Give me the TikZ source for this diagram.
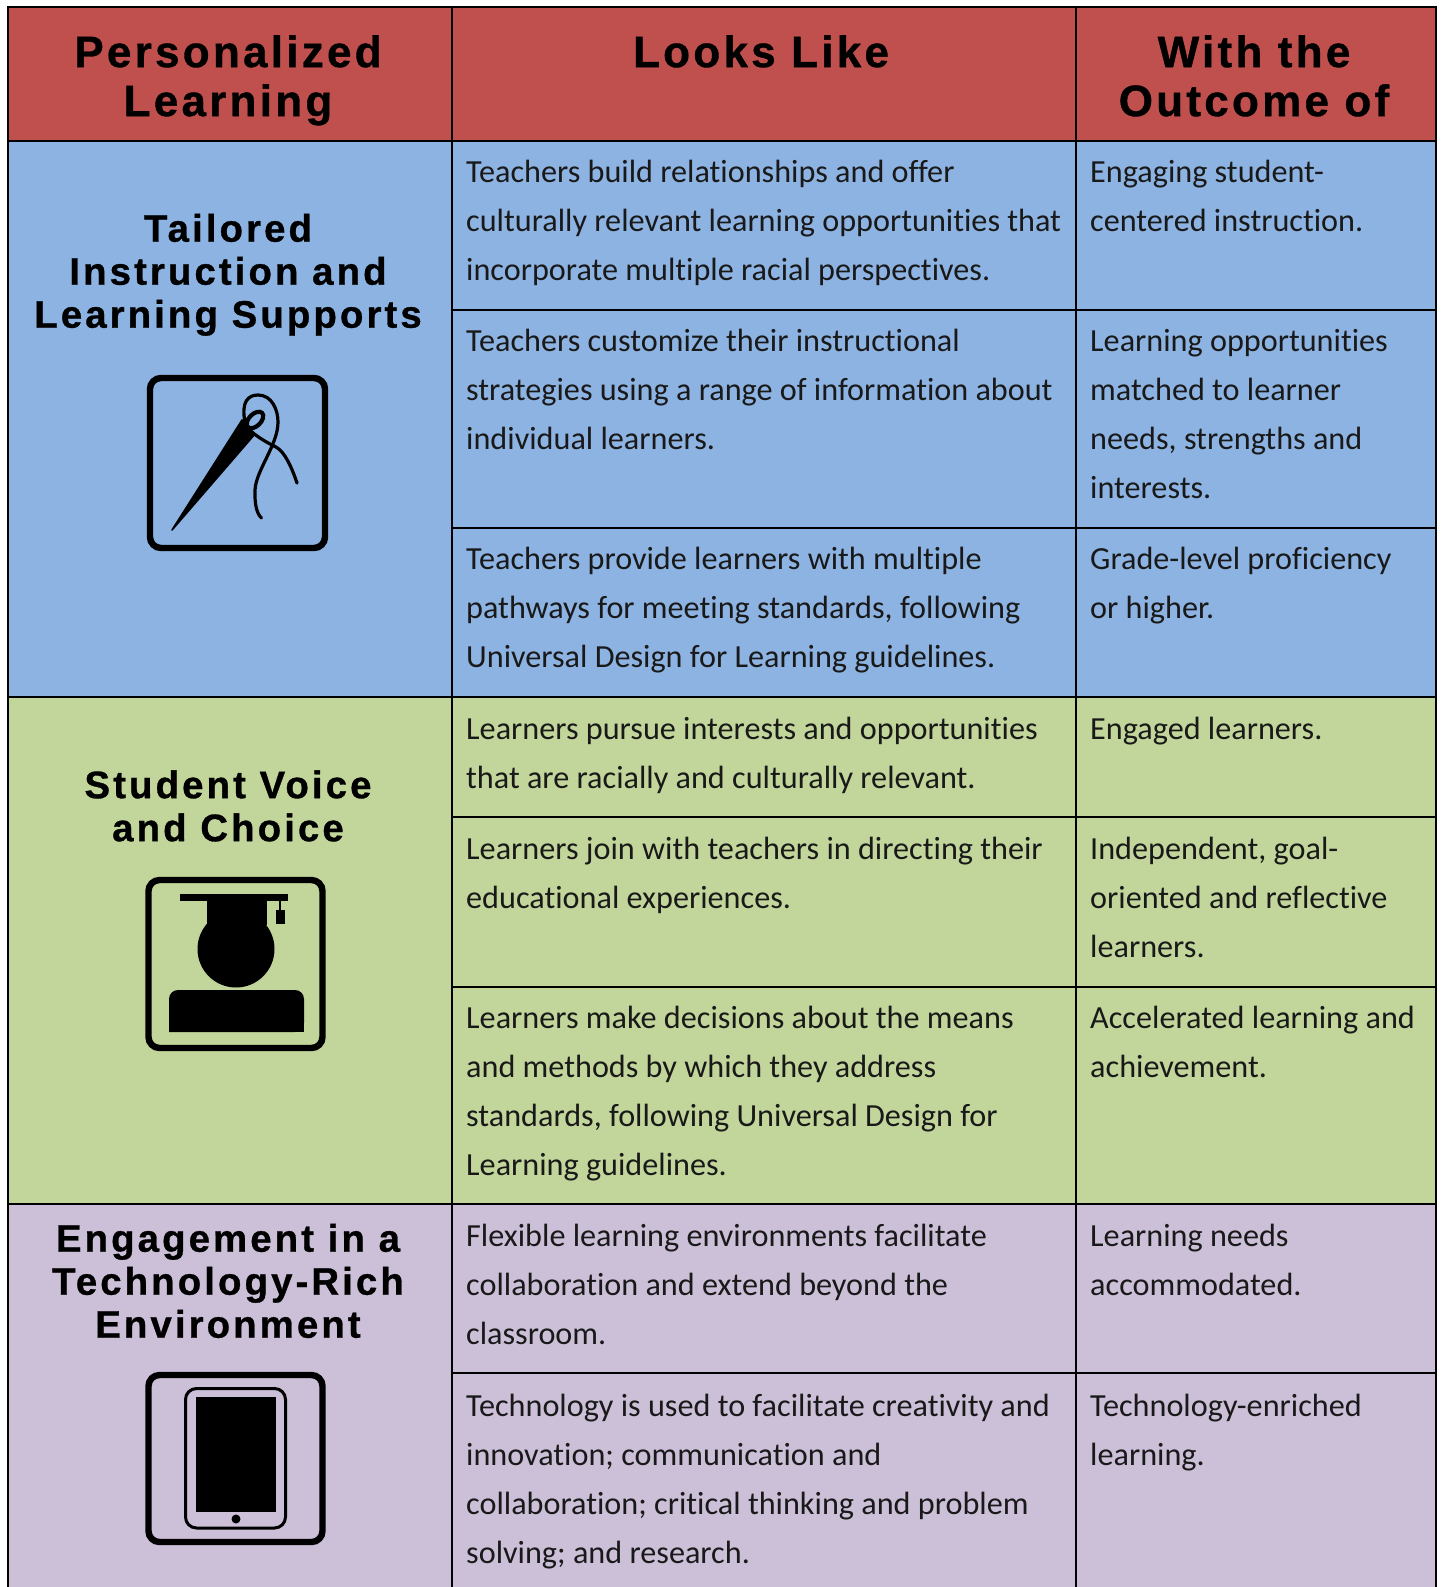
\documentclass[tikz,border=0pt]{standalone}
\usepackage{fontspec}
\setmainfont{Carlito}[Ligatures={NoCommon}]
\newfontfamily\headf{Liberation Sans}[LetterSpace=7.4,BoldFeatures={FakeBold=0.8}]
\newfontfamily\secf{Liberation Sans}[LetterSpace=8,BoldFeatures={FakeBold=0.8}]
\newcommand{\firstl}{\rule{0pt}{24pt}}
\definecolor{hdr}{HTML}{C0504D}
\definecolor{blu}{HTML}{8DB3E2}
\definecolor{grn}{HTML}{C2D69B}
\definecolor{pur}{HTML}{CCC0D9}
\tikzset{
  bodytext/.style={anchor=north west,inner sep=0pt,align=left,font=\fontsize{32.2}{48.7}\selectfont,text=black!90},
  headtext/.style={anchor=north,inner sep=0pt,align=center,font=\headf\bfseries\fontsize{44}{49}\selectfont},
  sectext/.style={anchor=north,inner sep=0pt,align=center,font=\secf\bfseries\fontsize{38.4}{43}\selectfont},
  rule/.style={draw=black,line width=2.6pt},
  iconbox/.style={draw=black,line width=6.4pt,rounded corners=11pt},
}
\begin{document}
\begin{tikzpicture}[x=1pt,y=-1pt]
\useasboundingbox (0,0) rectangle (1440,1587);
\fill[white] (0,0) rectangle (1440,1587);
% bands
\fill[hdr] (8,7) rectangle (1436,141);
\fill[blu] (8,141) rectangle (1436,697);
\fill[grn] (8,697) rectangle (1436,1204);
\fill[pur] (8,1204) rectangle (1436,1587);
% grid
\draw[rule] (8,1587) -- (8,7) -- (1436,7) -- (1436,1587);
\draw[rule] (452,7) -- (452,1587);
\draw[rule] (1076,7) -- (1076,1587);
\draw[rule] (8,141) -- (1436,141);
\draw[rule] (8,697) -- (1436,697);
\draw[rule] (8,1204) -- (1436,1204);
\foreach \yy in {310,528,817,987,1373} \draw[rule] (452,\yy) -- (1436,\yy);
% headers
\node[headtext] (h1) at (228,35) {\rule{0pt}{31pt}Personalized\\Learning};
\node[headtext] (h2) at (761,35) {\rule{0pt}{31pt}Looks Like};
\node[headtext] (h3) at (1254,35) {\rule{0pt}{31pt}With the\\Outcome of};
% section titles
\node[sectext] (s1) at (228,211.5) {\rule{0pt}{30pt}Tailored\\Instruction and\\Learning Supports};
\node[sectext] (s2) at (228,768) {\rule{0pt}{30pt}Student Voice\\and Choice};
\node[sectext] (s3) at (228,1221.5) {\rule{0pt}{30pt}Engagement in a\\Technology-Rich\\Environment};
% column 2
\node[bodytext] (a1) at (466,158.7) {\firstl Teachers build relationships and offer\\culturally relevant learning opportunities that\\incorporate multiple racial perspectives.};
\node[bodytext] (a2) at (466,327.7) {\firstl Teachers customize their instructional\\strategies using a range of information about\\individual learners.};
\node[bodytext] (a3) at (466,545.7) {\firstl Teachers provide learners with multiple\\pathways for meeting standards, following\\Universal Design for Learning guidelines.};
\node[bodytext] (a4) at (466,715.3) {\firstl Learners pursue interests and opportunities\\that are racially and culturally relevant.};
\node[bodytext] (a5) at (466,835.7) {\firstl Learners join with teachers in directing their\\educational experiences.};
\node[bodytext] (a6) at (466,1004.7) {\firstl Learners make decisions about the means\\and methods by which they address\\standards, following Universal Design for\\Learning guidelines.};
\node[bodytext] (a7) at (466,1222.7) {\firstl Flexible learning environments facilitate\\collaboration and extend beyond the\\classroom.};
\node[bodytext] (a8) at (466,1392.7) {\firstl Technology is used to facilitate creativity and\\innovation; communication and\\collaboration; critical thinking and problem\\solving; and research.};
% column 3
\node[bodytext] (b1) at (1090,158.7) {\firstl Engaging student-\\centered instruction.};
\node[bodytext] (b2) at (1090,327.7) {\firstl Learning opportunities\\matched to learner\\needs, strengths and\\interests.};
\node[bodytext] (b3) at (1090,545.7) {\firstl Grade-level proficiency\\or higher.};
\node[bodytext] (b4) at (1090,715.3) {\firstl Engaged learners.};
\node[bodytext] (b5) at (1090,835.7) {\firstl Independent, goal-\\oriented and reflective\\learners.};
\node[bodytext] (b6) at (1090,1004.7) {\firstl Accelerated learning and\\achievement.};
\node[bodytext] (b7) at (1090,1222.7) {\firstl Learning needs\\accommodated.};
\node[bodytext] (b8) at (1090,1392.7) {\firstl Technology-enriched\\learning.};
% needle icon
\draw[iconbox] (150,378) rectangle (325,548);
\fill[black,draw=black,line width=1.6pt,line join=round] (172,530) -- (242,420) -- (255,434) -- cycle;
\draw[black,line width=4.2pt,fill=blu,rotate around={45:(255,420)}] (255,420) ellipse (10pt and 6pt);
\draw[black,line width=3.2pt,line cap=round] (245,422) .. controls (241,402) and (248,395) .. (258,395) .. controls (272,395) and (278,410) .. (278,422) .. controls (278,445) and (256,470) .. (255,490) .. controls (254.5,505) and (257,514) .. (261.5,518);
\draw[black,line width=3.2pt,line cap=round] (253,433) .. controls (262,440) and (270,444) .. (276,447) .. controls (285,452) and (292,468) .. (297,483);
% graduate icon
\draw[iconbox] (148.5,880) rectangle (322.5,1048);
\fill[black] (180,894) rectangle (288,901);
\fill[black] (207,901) rectangle (267,925);
\fill[black] (236,949) circle (38.5pt);
\fill[black] (279,901) rectangle (281,911);
\fill[black] (276,910) rectangle (284.5,923.5);
\fill[black,rounded corners=9pt] (169,1032) -- (169,990) -- (304,990) -- (304,1032) [sharp corners] -- cycle;
\fill[black] (169,1015) rectangle (304,1032);
% tablet icon
\draw[iconbox] (148.5,1375) rectangle (322.5,1542);
\draw[black,line width=3pt,rounded corners=11pt] (185.5,1388.5) rectangle (285.5,1528);
\fill[black] (196,1397) rectangle (276,1512);
\fill[black] (236,1519) circle (4.5pt);
\end{tikzpicture}
\end{document}
